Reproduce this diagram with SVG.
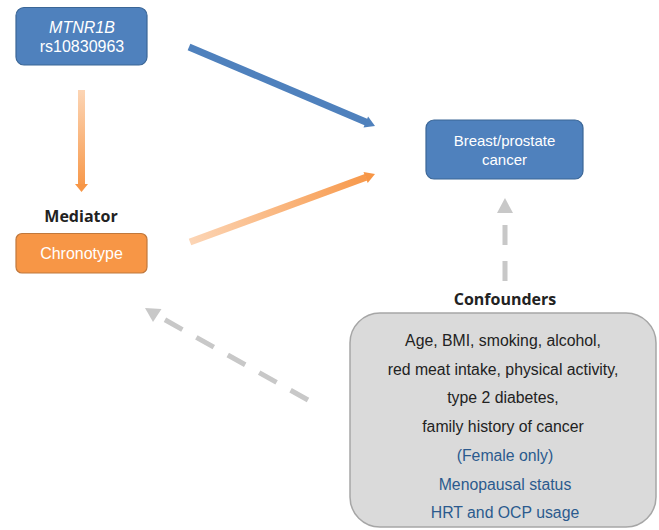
<svg xmlns="http://www.w3.org/2000/svg" width="659" height="530" viewBox="0 0 659 530">
<defs>
<linearGradient id="gv" gradientUnits="userSpaceOnUse" x1="0" y1="90" x2="0" y2="190">
<stop offset="0" stop-color="#fcd5b5"/><stop offset="1" stop-color="#f79646"/>
</linearGradient>
<linearGradient id="gd" gradientUnits="userSpaceOnUse" x1="190" y1="242" x2="375" y2="174">
<stop offset="0" stop-color="#fcd5b5"/><stop offset="1" stop-color="#f79646"/>
</linearGradient>
</defs>
<style>
.blue{fill:#4f81bd;stroke:#3b6696;stroke-width:1.2}
.orange{fill:#f79646;stroke:#c0783c;stroke-width:1.2}
.wt{font-family:"Liberation Sans",Arial,sans-serif;fill:#fff;text-anchor:middle}
.hd{font-family:"Open Sans","Liberation Sans",sans-serif;font-weight:bold;font-size:16px;fill:#222;text-anchor:middle}
.bt{font-family:"Liberation Sans",Arial,sans-serif;font-size:15.8px;fill:#222;text-anchor:middle}
.bl{fill:#2b5a8e}
.dash{stroke:#c8c8c8;stroke-width:5;fill:none;stroke-dasharray:20 16}
</style>
<g id="connectors">
<line x1="189" y1="47" x2="367" y2="122.5" stroke="#4f81bd" stroke-width="7"/>
<polygon points="375,126 363.5,127.6 368.1,116.6" fill="#4f81bd"/>
<line x1="81.5" y1="90" x2="81.5" y2="185" stroke="url(#gv)" stroke-width="7"/>
<polygon points="75,184 88,184 81.5,192" fill="#f79646"/>
<line x1="190" y1="242" x2="366" y2="177.3" stroke="url(#gd)" stroke-width="7"/>
<polygon points="375,174 367.7,183.1 363.5,171.9" fill="#f79646"/>
<line class="dash" x1="505" y1="281" x2="505" y2="222"/>
<polygon points="505,198 513,213 497,213" fill="#c8c8c8"/>
<line class="dash" x1="308" y1="400" x2="160" y2="317"/>
<polygon points="145,308 161.5,309 153,322" fill="#c8c8c8"/>
</g>
<g id="mtnr1b">
<rect class="blue" x="16" y="7.5" width="131" height="57.5" rx="8"/>
<text class="wt" x="82" y="33" font-size="16" font-style="italic">MTNR1B</text>
<text class="wt" x="82" y="52" font-size="16">rs10830963</text>
</g>
<g id="mediator">
<text class="hd" x="81" y="222">Mediator</text>
<rect class="orange" x="16" y="233.5" width="131" height="39.5" rx="6"/>
<text class="wt" x="81.5" y="259" font-size="16">Chronotype</text>
</g>
<g id="cancer">
<rect class="blue" x="426" y="120" width="157" height="59" rx="8"/>
<text class="wt" x="504.5" y="145.5" font-size="15">Breast/prostate</text>
<text class="wt" x="504.5" y="164.5" font-size="15">cancer</text>
</g>
<g id="confounders">
<text class="hd" x="505" y="305">Confounders</text>
<rect x="350" y="313" width="306" height="214" rx="30" fill="#dadada" stroke="#a6a6a6" stroke-width="1.5"/>
<text class="bt" x="503" y="346">Age, BMI, smoking, alcohol,</text>
<text class="bt" x="503" y="375">red meat intake, physical activity,</text>
<text class="bt" x="503" y="403">type 2 diabetes,</text>
<text class="bt" x="503" y="432">family history of cancer</text>
<text class="bt bl" x="505" y="461">(Female only)</text>
<text class="bt bl" x="505" y="490">Menopausal status</text>
<text class="bt bl" x="505" y="518">HRT and OCP usage</text>
</g>
</svg>
